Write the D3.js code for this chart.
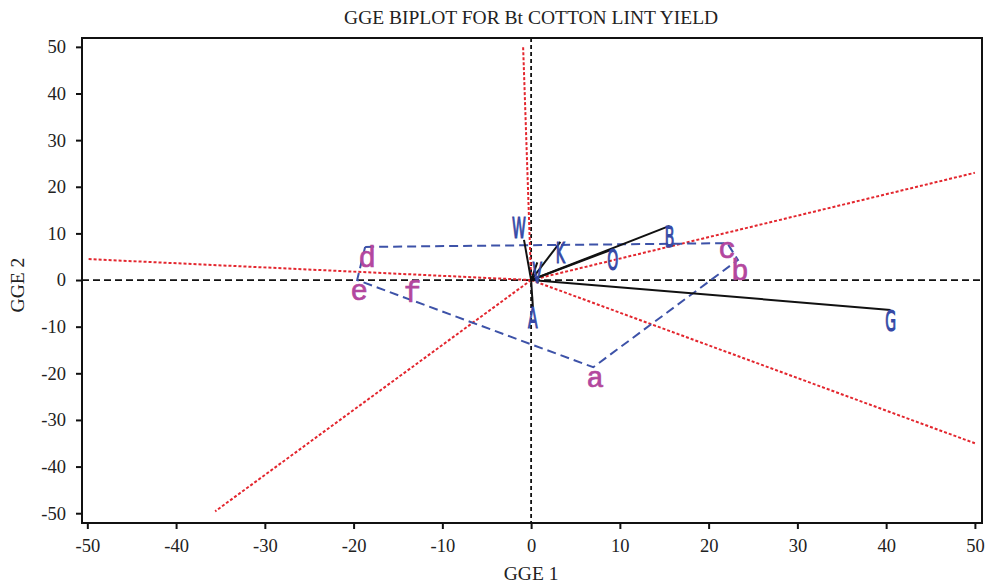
<!DOCTYPE html>
<html>
<head>
<meta charset="utf-8">
<script src="https://cdn.jsdelivr.net/npm/d3@7"></script>
<style>
  body { margin: 0; background: #fff; }
  .tick text { font-family: "Liberation Serif", serif; font-size: 18.5px; fill: #222; }
</style>
</head>
<body>
<div id="chart"></div>
<script>
// environments (hull vertices + inner point)
var envNames = ["a", "b", "c", "d", "e", "f"];
var envX = [7.0, 23.3, 22.1, -18.7, -19.6, -13.6];
var envY = [-18.7, 4.3, 7.9, 7.1, 0.0, -0.4];
var hullOrder = ["d", "c", "b", "a", "e", "d"];

// genotype vectors
var genoNames = ["W", "K", "B", "O", "G", "A", "V"];
var genoX = [-0.8, 3.3, 15.6, 9.2, 40.5, 0.2, 0.7];
var genoY = [8.6, 8.2, 11.6, 6.6, -6.4, -5.8, 3.8];
var labelAbove = ["W"];

// red rays (sector boundaries) end points
var rayX = [-0.9, 50, 50, -50, -35.6];
var rayY = [50, 23, -35, 4.5, -49.6];

var xTicks = [-50, -40, -30, -20, -10, 0, 10, 20, 30, 40, 50];
var yTicks = [-50, -40, -30, -20, -10, 0, 10, 20, 30, 40, 50];

var svgWidth = 989;
var svgHeight = 586;
var margin = { top: 38, right: 7, bottom: 63, left: 82 };
var width = svgWidth - margin.left - margin.right;
var height = svgHeight - margin.top - margin.bottom;

var svg = d3.select("#chart")
  .append("svg")
  .attr("width", svgWidth)
  .attr("height", svgHeight);

var chartGroup = svg.append("g")
  .attr("transform", `translate(${margin.left}, ${margin.top})`);

var xScale = d3.scaleLinear().domain([-50.6, 50.8]).range([0, width]);
var yScale = d3.scaleLinear().domain([-52.1, 51.9]).range([height, 0]);

// axes (plain hyphen for negatives)
var xAxis = chartGroup.append("g")
  .attr("transform", `translate(0, ${height})`)
  .call(d3.axisBottom(xScale).tickValues(xTicks).tickFormat(d => String(d)).tickSize(6).tickPadding(10));
var yAxis = chartGroup.append("g")
  .call(d3.axisLeft(yScale).tickValues(yTicks).tickFormat(d => String(d)).tickSize(6).tickPadding(10));
[xAxis, yAxis].forEach(function (ax) {
  ax.select(".domain").remove();
  ax.selectAll(".tick line").attr("stroke", "#111").attr("stroke-width", 2);
});

// frame
chartGroup.append("rect")
  .attr("width", width)
  .attr("height", height)
  .attr("fill", "none")
  .attr("stroke", "#111")
  .attr("stroke-width", 2);

// zero lines
chartGroup.append("line")
  .attr("x1", xScale(-50.6)).attr("x2", xScale(50.8))
  .attr("y1", yScale(0)).attr("y2", yScale(0))
  .attr("stroke", "#111").attr("stroke-width", 1.8)
  .attr("stroke-dasharray", "7,4");
chartGroup.append("line")
  .attr("x1", xScale(0)).attr("x2", xScale(0))
  .attr("y1", yScale(51.9)).attr("y2", yScale(-52.1))
  .attr("stroke", "#111").attr("stroke-width", 1.8)
  .attr("stroke-dasharray", "4,3");

// red sector rays
chartGroup.selectAll(".ray")
  .data(rayX)
  .enter()
  .append("line")
  .attr("class", "ray")
  .attr("x1", xScale(0)).attr("y1", yScale(0))
  .attr("x2", d => xScale(d))
  .attr("y2", (d, i) => yScale(rayY[i]))
  .attr("stroke", "#e3262e")
  .attr("stroke-width", 2)
  .attr("stroke-dasharray", "3,2");

// polygon (hull)
var hullPts = hullOrder.map(function (n) {
  var i = envNames.indexOf(n);
  return [xScale(envX[i]), yScale(envY[i])];
});
chartGroup.append("path")
  .attr("d", d3.line()(hullPts))
  .attr("fill", "none")
  .attr("stroke", "#3d52a8")
  .attr("stroke-width", 2)
  .attr("stroke-dasharray", "9,5");

// genotype vectors
chartGroup.selectAll(".vec")
  .data(genoNames)
  .enter()
  .append("line")
  .attr("class", "vec")
  .attr("x1", xScale(0)).attr("y1", yScale(0))
  .attr("x2", (d, i) => xScale(genoX[i]))
  .attr("y2", (d, i) => yScale(genoY[i]))
  .attr("stroke", "#111")
  .attr("stroke-width", 2);

// genotype labels (condensed blue)
genoNames.forEach(function (n, i) {
  var px = xScale(genoX[i]);
  var py = yScale(genoY[i]);
  var above = labelAbove.indexOf(n) >= 0;
  var g = chartGroup.append("g")
    .attr("transform", `translate(${above ? px - 5 : px}, ${above ? py - 2 : py + 21})`);
  g.append("text")
    .attr("transform", "scale(0.5,1)")
    .attr("text-anchor", "middle")
    .attr("font-family", "DejaVu Sans, sans-serif")
    .attr("font-size", 28)
    .attr("fill", "#3549a6")
    .attr("stroke", "#3549a6")
    .attr("stroke-width", 1.2)
    .text(n);
});

// environment labels (magenta)
chartGroup.selectAll(".env")
  .data(envNames)
  .enter()
  .append("text")
  .attr("class", "env")
  .attr("x", (d, i) => xScale(envX[i]) + (d === "c" ? 0 : 2))
  .attr("y", (d, i) => yScale(envY[i]) + (d === "c" ? 15 : 20))
  .attr("text-anchor", "middle")
  .attr("font-family", "Liberation Mono, monospace")
  .attr("font-size", 29)
  .attr("fill", "#b3479e")
  .attr("stroke", "#b3479e")
  .attr("stroke-width", 0.7)
  .text(d => d);

// title and axis titles
svg.append("text")
  .attr("x", margin.left + xScale(0))
  .attr("y", 24)
  .attr("text-anchor", "middle")
  .attr("font-family", "Liberation Serif, serif")
  .attr("font-size", 19.5)
  .attr("fill", "#222")
  .text("GGE BIPLOT FOR Bt COTTON LINT YIELD");

svg.append("text")
  .attr("x", margin.left + xScale(0))
  .attr("y", 580)
  .attr("text-anchor", "middle")
  .attr("font-family", "Liberation Serif, serif")
  .attr("font-size", 19.5)
  .attr("fill", "#222")
  .text("GGE 1");

svg.append("text")
  .attr("transform", `translate(24, ${margin.top + yScale(0) + 5}) rotate(-90)`)
  .attr("text-anchor", "middle")
  .attr("font-family", "Liberation Serif, serif")
  .attr("font-size", 19.5)
  .attr("fill", "#222")
  .text("GGE 2");
</script>
</body>
</html>
